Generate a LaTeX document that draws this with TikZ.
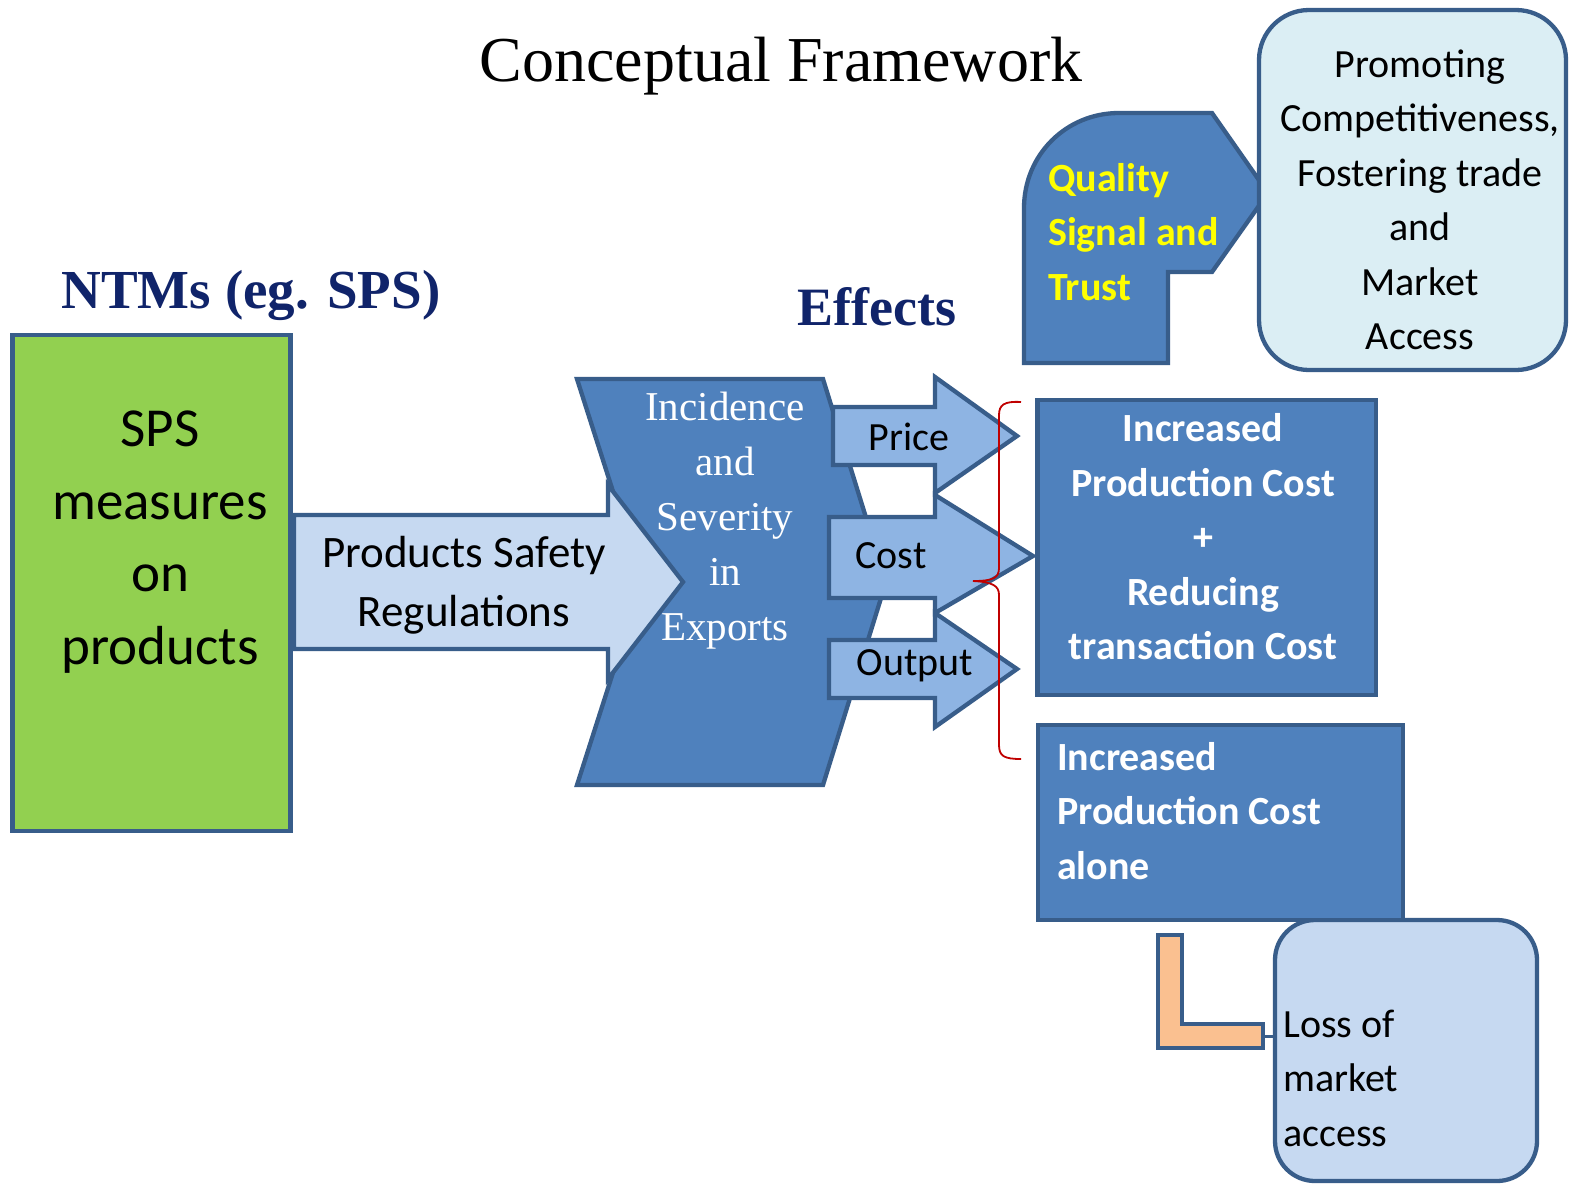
\documentclass[tikz,border=0pt]{standalone}
\usepackage{fontspec}
\setmainfont{Carlito}
\newfontfamily\tms{Liberation Serif}
\definecolor{bdr}{HTML}{385D8A}
\definecolor{midblue}{HTML}{4F81BD}
\definecolor{arrowblue}{HTML}{8EB4E3}
\definecolor{paleblue}{HTML}{C6D9F1}
\definecolor{cyanpale}{HTML}{DBEEF4}
\definecolor{grn}{HTML}{92D050}
\definecolor{orng}{HTML}{FAC090}
\definecolor{navy}{HTML}{10246A}
\definecolor{bracered}{HTML}{C00000}
\definecolor{qyellow}{HTML}{FFFF00}
\tikzset{
  outl/.style={draw=bdr, line width=4.3pt, line join=miter},
  boxnode/.style={outl, rectangle, inner sep=0pt},
  txt/.style={inner sep=0pt, align=center},
  ltxt/.style={inner sep=0pt, align=left, anchor=west},
  sz40/.style={font=\fontsize{40}{54.5}\selectfont},
  sz40b/.style={font=\fontsize{40}{54.5}\selectfont\bfseries},
}
\begin{document}
\begin{tikzpicture}[x=1pt,y=-1pt]
\useasboundingbox (0,0) rectangle (1573,1184);
\fill[white] (0,0) rectangle (1573,1184);

% title and headings
\node[txt, font=\tms\fontsize{64}{70}\selectfont] (title) at (781,66) {Conceptual Framework};
\node[txt, font=\tms\bfseries\fontsize{55}{60}\selectfont, text=navy] (ntms) at (251,295) {NTMs (eg. SPS)};
\node[txt, font=\tms\bfseries\fontsize{54}{60}\selectfont, text=navy] (effects) at (877,307) {Effects};

% green box
\node[boxnode, fill=grn, minimum width=278, minimum height=496] (sps) at (151.5,583) {};
\node[txt, font=\fontsize{55}{72.5}\selectfont] (spst) at (160,542) {SPS\\measures\\on\\products};

% chevron
\path[outl, fill=midblue] (577,379) -- (823,379) -- (886,582) -- (823,785) -- (577,785) -- (642,582) -- cycle;
\node[txt, font=\tms\fontsize{41}{55}\selectfont, text=white] (inc) at (725,521) {Incidence\\and\\Severity\\in\\Exports};

% products arrow
\path[outl, fill=paleblue] (294,515) -- (608,515) -- (608,485) -- (683,582) -- (608,679) -- (608,649) -- (294,649) -- cycle;
\node[txt, font=\fontsize{45}{59}\selectfont] (psr) at (464,585) {Products Safety\\Regulations};

% effect arrows
\path[outl, fill=arrowblue] (833,407) -- (935,407) -- (935,377) -- (1017,436) -- (935,493) -- (935,465) -- (833,465) -- cycle;
\node[txt, sz40] (price) at (909,437) {Price};
\path[outl, fill=arrowblue] (829,517) -- (935,517) -- (935,495) -- (1033,556) -- (935,613) -- (935,598) -- (829,598) -- cycle;
\node[txt, sz40] (cost) at (891,556) {Cost};
\path[outl, fill=arrowblue] (829,640) -- (935,640) -- (935,613) -- (1017,669) -- (935,727) -- (935,698) -- (829,698) -- cycle;
\node[txt, sz40] (output) at (915,666) {Output};

% red brace
\draw[bracered, line width=1.8pt] (1021,402) .. controls (1004,401) and (999,405) .. (999,415) -- (999,568)
  .. controls (999,578) and (993,581) .. (973,581) .. controls (993,582) and (999,586) .. (999,595)
  -- (999,745) .. controls (999,756) and (1004,759) .. (1021,759);

% right boxes
\node[boxnode, fill=paleblue, rounded corners=40, minimum width=262, minimum height=261] (loss) at (1406,1050.5) {};
\node[ltxt, sz40] (losst) at (1283,1078) {Loss of\\market\\access};
\node[boxnode, fill=midblue, minimum width=338.5, minimum height=295] (incr) at (1206.7,547.5) {};
\node[txt, sz40b, text=white] (incrt) at (1203,537) {Increased\\Production Cost\\+\\Reducing\\transaction Cost};
\node[boxnode, fill=midblue, minimum width=365, minimum height=195] (alone) at (1220.5,822.5) {};
\node[ltxt, sz40b, text=white] (alonet) at (1057,811) {Increased\\Production Cost\\alone};

% quality shape
\path[outl, fill=midblue] (1024,363) -- (1024,208) .. controls (1024,155) and (1066,113) .. (1119,113)
  -- (1212,113) -- (1268,193) -- (1212,272) -- (1168,272) -- (1168,363) -- cycle;
\node[ltxt, sz40b, text=qyellow] (qual) at (1048,232) {Quality\\Signal and\\Trust};

% promoting box
\node[boxnode, fill=cyanpale, rounded corners=50, minimum width=307, minimum height=360] (promo) at (1412.5,190) {};
\node[txt, sz40] (promot) at (1420,200) {Promoting\\Competitiveness,\\Fostering trade\\and\\Market\\Access};

% L connector
\path[outl, fill=orng] (1158,935) -- (1182,935) -- (1182,1024) -- (1263,1024) -- (1263,1048) -- (1158,1048) -- cycle;
\coordinate (lend) at (1263,1036);
\draw[bdr, line width=3pt] (lend) -- (loss.west |- lend);
\end{tikzpicture}
\end{document}
